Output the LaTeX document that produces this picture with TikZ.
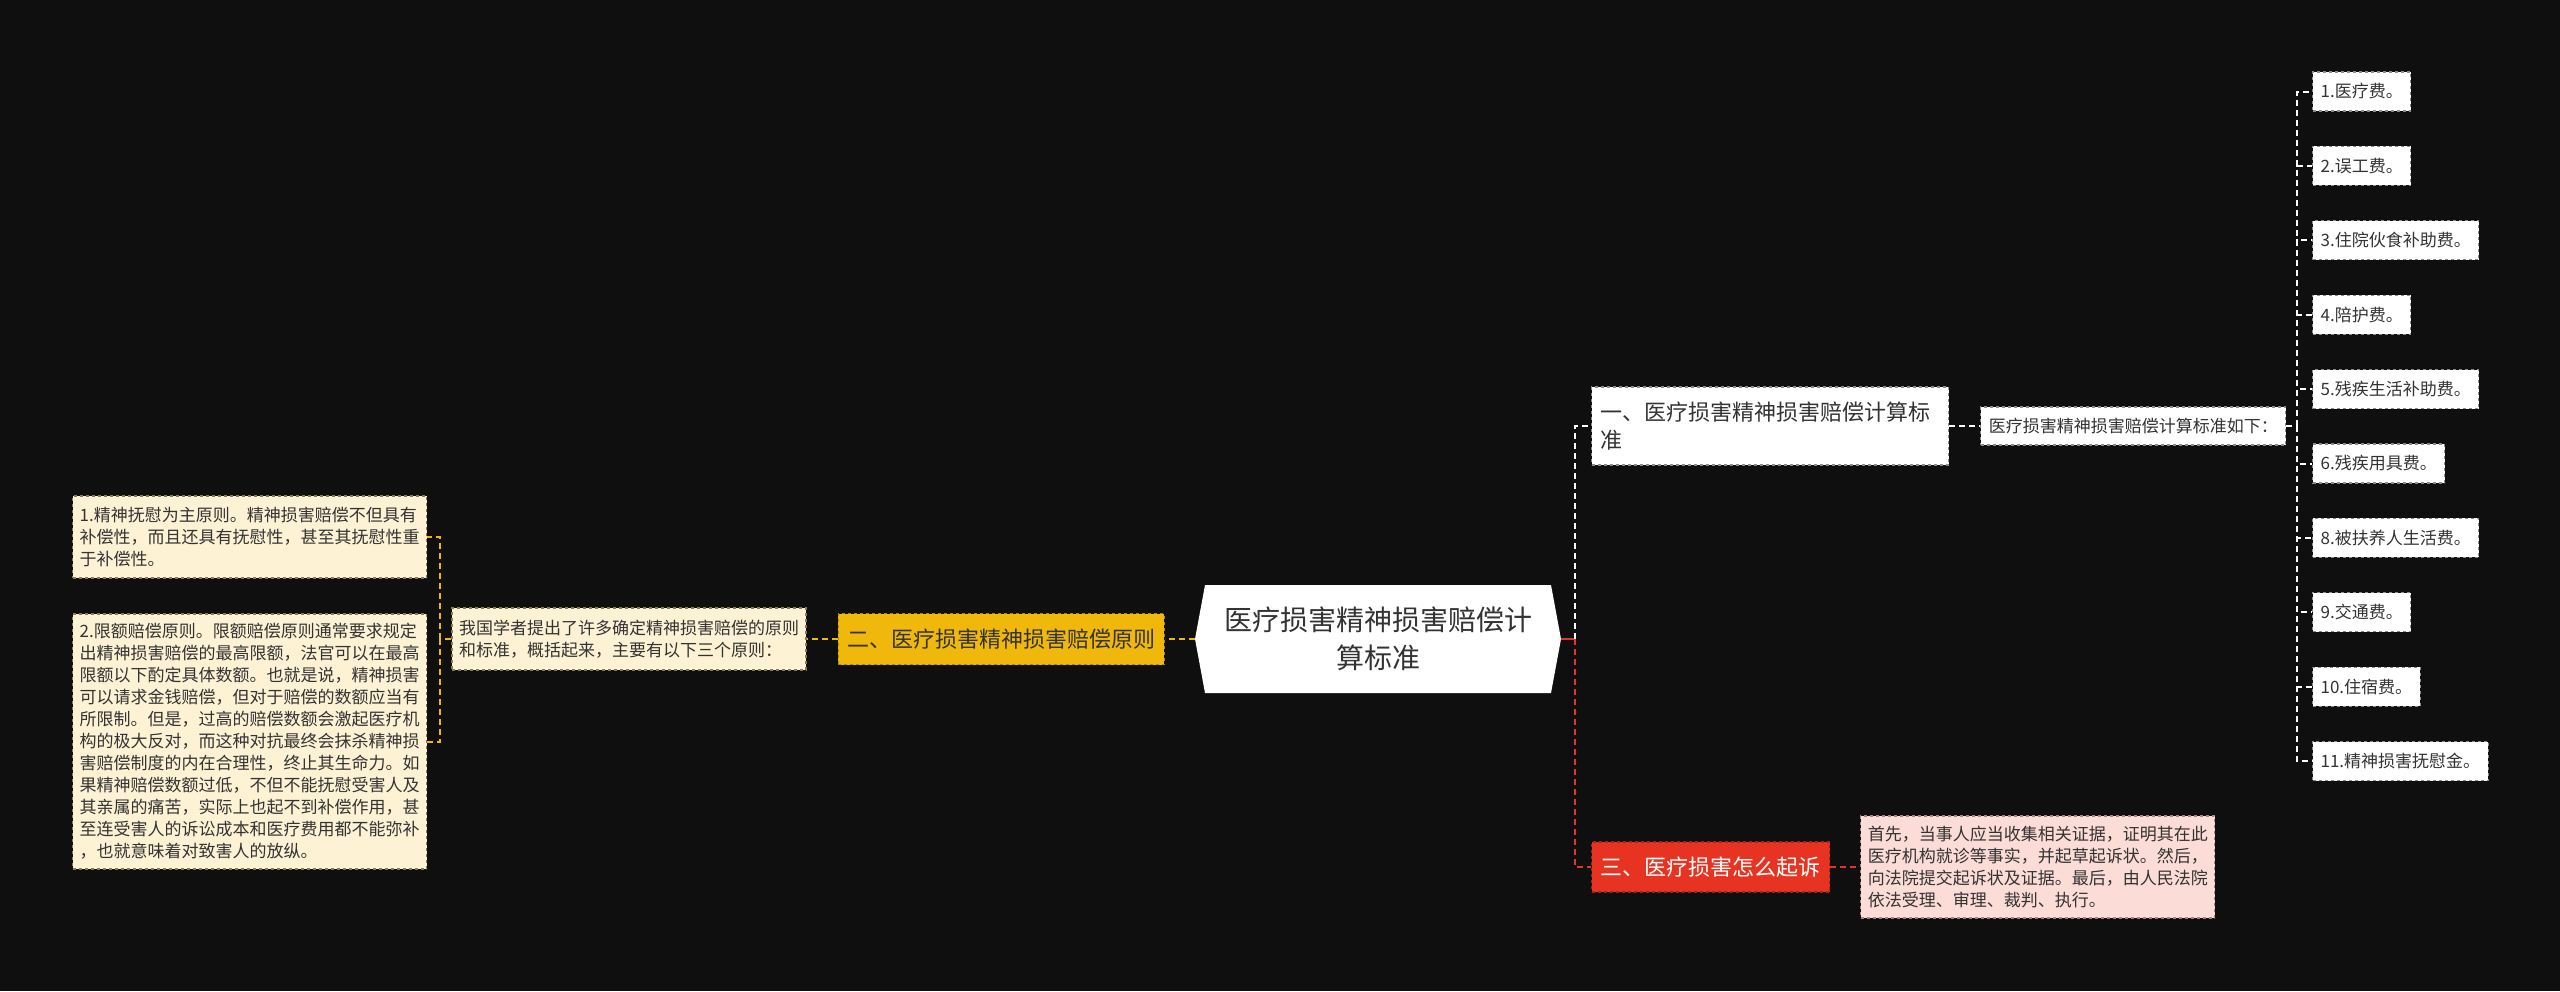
\documentclass[tikz,border=0pt]{standalone}
\usepackage{fontspec}
\setmainfont{Noto Sans CJK SC}
\usepackage{tikz}
\usetikzlibrary{positioning,shapes.symbols}
\definecolor{bgdark}{HTML}{0F0F0F}
\definecolor{inkgray}{HTML}{333333}
\definecolor{gold}{HTML}{F0B80B}
\definecolor{golddark}{HTML}{B08600}
\definecolor{cream}{HTML}{FDF2D4}
\definecolor{creamline}{HTML}{8A7A58}
\definecolor{alarm}{HTML}{E63322}
\definecolor{alarmdark}{HTML}{A82414}
\definecolor{blush}{HTML}{FCDCD6}
\definecolor{blushline}{HTML}{A88480}
\definecolor{boxline}{HTML}{8C8C8C}

\begin{document}
\begin{tikzpicture}[x=1pt,y=-1pt,
  root/.style={signal,signal to=west and east,signal pointer angle=159,fill=white,text=inkgray,font=\fontsize{28}{38}\selectfont,align=center,minimum width=366,minimum height=108,inner sep=0},
  card/.style={draw=boxline,dashed,line width=1.2,fill=white,text=inkgray,font=\fontsize{17}{22}\selectfont,align=left,inner xsep=8,inner ysep=0},
  note/.style={card,fill=cream,draw=creamline,inner xsep=7},
  topic/.style={card,font=\fontsize{22}{28}\selectfont,inner xsep=9},
  link/.style={dash pattern=on 6pt off 4pt,line width=2}
]
  \useasboundingbox (0,0) rectangle (2560,991);
  \fill[bgdark] (0,0) rectangle (2560,991);

  \node[root] (root) at (1378,639) {医疗损害精神损害赔偿计\\算标准};

  % left branch
  \node[topic,fill=gold,draw=golddark,minimum height=51,left=30pt of root] (principle) {二、医疗损害精神损害赔偿原则};
  \node[note,minimum height=62,left=31pt of principle] (scholar) {我国学者提出了许多确定精神损害赔偿的原则\\和标准，概括起来，主要有以下三个原则：};
  \node[note,anchor=west,minimum height=82] (comfort) at (72,537) {1.精神抚慰为主原则。精神损害赔偿不但具有\\补偿性，而且还具有抚慰性，甚至其抚慰性重\\于补偿性。};
  \node[note,anchor=west,minimum height=255] (limit) at (72,741.5) {2.限额赔偿原则。限额赔偿原则通常要求规定\\出精神损害赔偿的最高限额，法官可以在最高\\限额以下酌定具体数额。也就是说，精神损害\\可以请求金钱赔偿，但对于赔偿的数额应当有\\所限制。但是，过高的赔偿数额会激起医疗机\\构的极大反对，而这种对抗最终会抹杀精神损\\害赔偿制度的内在合理性，终止其生命力。如\\果精神赔偿数额过低，不但不能抚慰受害人及\\其亲属的痛苦，实际上也起不到补偿作用，甚\\至连受害人的诉讼成本和医疗费用都不能弥补\\，也就意味着对致害人的放纵。};
  \coordinate (lhub) at (440,639);
  \draw[link,gold] (root.west) -- (principle.east);
  \draw[link,gold] (principle.west) -- (scholar.east);
  \draw[link,gold] (scholar.west) -- (lhub);
  \draw[link,gold] (lhub) |- (comfort.east);
  \draw[link,gold] (lhub) |- (limit.east);

  % right branches
  \coordinate (rhub) at (1575,639);
  \node[topic,anchor=west,text width=339,minimum height=78] (standard) at (1591,426) {一、医疗损害精神损害赔偿计算标\\准};
  \node[card,minimum height=38,right=31pt of standard] (listing) {医疗损害精神损害赔偿计算标准如下：};
  \node[topic,fill=alarm,draw=alarmdark,text=white,anchor=west,minimum height=50] (lawsuit) at (1591,867) {三、医疗损害怎么起诉};
  \node[card,fill=blush,draw=blushline,inner xsep=7,minimum height=102,right=30pt of lawsuit] (steps) {首先，当事人应当收集相关证据，证明其在此\\医疗机构就诊等事实，并起草起诉状。然后，\\向法院提交起诉状及证据。最后，由人民法院\\依法受理、审理、裁判、执行。};
  \draw[alarm,line width=2] (root.east) -- (rhub);
  \draw[link,white] (rhub) |- (standard.west);
  \draw[link,alarm] (rhub) |- (lawsuit.west);
  \draw[link,white] (standard.east) -- (listing.west);
  \draw[link,alarm] (lawsuit.east) -- (steps.west);

  % fee list
  \foreach \txt [count=\i] in {1.医疗费。,2.误工费。,3.住院伙食补助费。,4.陪护费。,5.残疾生活补助费。,6.残疾用具费。,8.被扶养人生活费。,9.交通费。,10.住宿费。,11.精神损害抚慰金。}
    \node[card,anchor=west,minimum height=39] (fee\i) at (2312,{91.5+74.4*(\i-1)}) {\txt};
  \coordinate (fhub) at (2297,426);
  \draw[link,white] (listing.east) -- (fhub);
  \foreach \i in {1,...,10}
    \draw[link,white] (fhub) |- (fee\i.west);
\end{tikzpicture}
\end{document}
